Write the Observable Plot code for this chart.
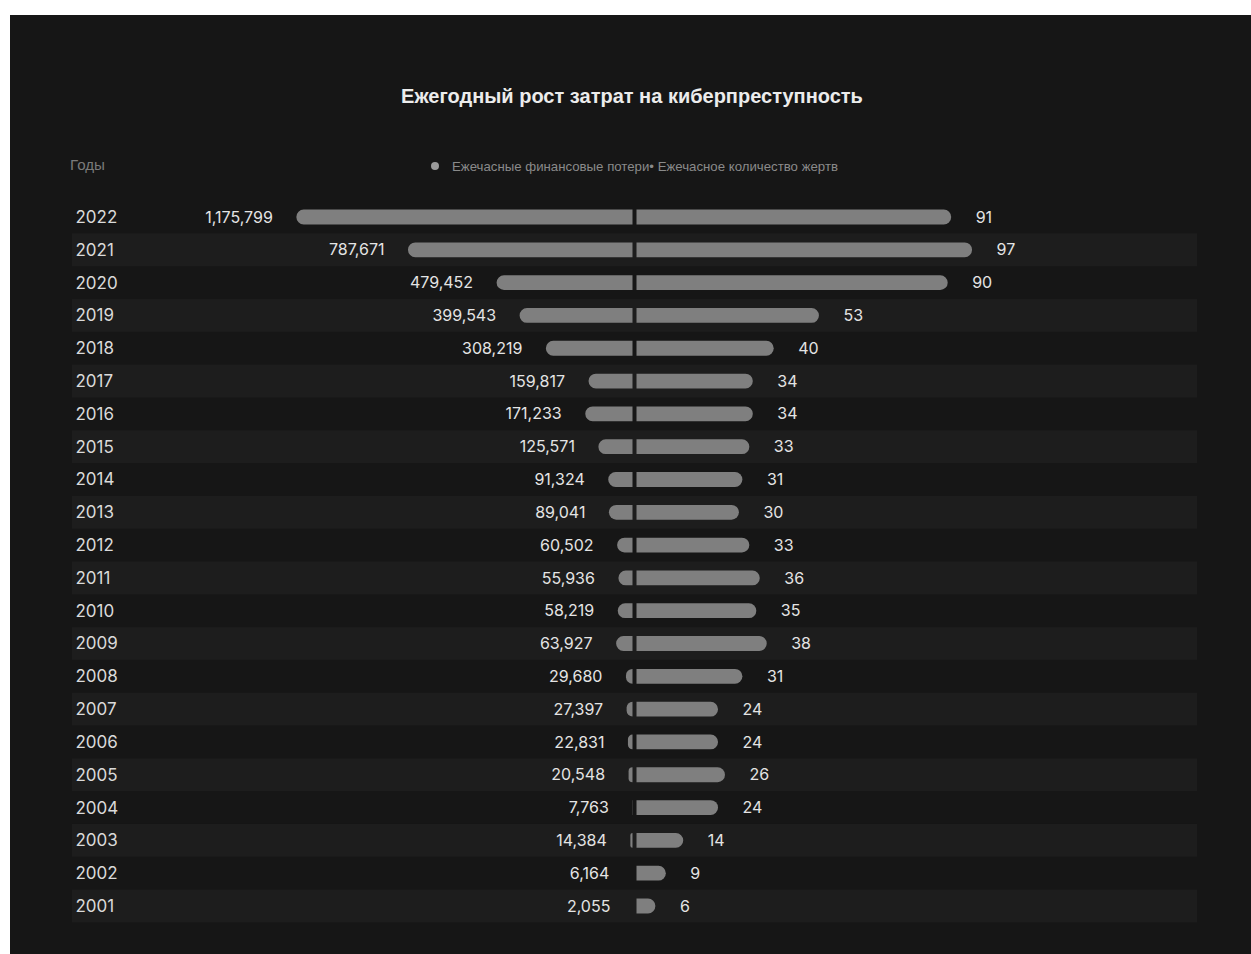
<!DOCTYPE html>
<html><head><meta charset="utf-8">
<script src="https://cdn.jsdelivr.net/npm/d3@7"></script>
<script src="https://cdn.jsdelivr.net/npm/@observablehq/plot@0.6"></script>
<style>
html,body{margin:0;padding:0;background:#fff;width:1251px;height:954px;overflow:hidden;}
#panel{position:absolute;left:10px;top:15px;width:1241px;height:939px;background:#161616;}
#title{position:absolute;left:0;width:1264px;top:85px;text-align:center;font-family:"Liberation Sans",Arial,sans-serif;font-weight:bold;font-size:20px;color:#ececec;white-space:nowrap;}
#head{position:absolute;left:0;top:140px;}
#chart{position:absolute;left:0;top:190px;}
</style></head>
<body>
<div id="panel"></div>
<div id="title">Ежегодный рост затрат на киберпреступность</div>
<svg id="head" width="1251" height="45" font-family="'Liberation Sans', Arial, sans-serif">
  <text x="70" y="30" font-size="15" fill="#7a7a7a" textLength="35" lengthAdjust="spacingAndGlyphs">Годы</text>
  <circle cx="435" cy="26" r="4" fill="#9a9a9a"></circle>
  <text x="452" y="30.5" font-size="13.5" fill="#8a8a8a" textLength="386" lengthAdjust="spacingAndGlyphs">Ежечасные финансовые потери• Ежечасное количество жертв</text>
</svg>
<div id="chart"></div>
<script>
const years = [2022, 2021, 2020, 2019, 2018, 2017, 2016, 2015, 2014, 2013, 2012, 2011, 2010, 2009, 2008, 2007, 2006, 2005, 2004, 2003, 2002, 2001];
const losses = [1175799, 787671, 479452, 399543, 308219, 159817, 171233, 125571, 91324, 89041, 60502, 55936, 58219, 63927, 29680, 27397, 22831, 20548, 7763, 14384, 6164, 2055];
const victims = [91, 97, 90, 53, 40, 34, 34, 33, 31, 30, 33, 36, 35, 38, 31, 24, 24, 26, 24, 14, 9, 6];

const rows = years.map((y, i) => ({year: String(y), loss: losses[i], victims: victims[i]}));
const fmt = d3.format(",");
const pxPerUnit = 3.48, lossPerUnit = 12100;
const left = 72, right = 1197, W = 1251;
const half = (right - left) / 2 / pxPerUnit;
const barFill = "#7f7f7f";
const bar = {y: "year", insetTop: 9, insetBottom: 9, fill: barFill};

const chart = Plot.plot({
  width: W, height: 764,
  marginLeft: left, marginRight: W - right, marginTop: 10.6, marginBottom: 31.6,
  x: {domain: [-half, half], axis: null},
  y: {type: "band", domain: rows.map(d => d.year), padding: 0, round: false, axis: null},
  style: {background: "transparent", color: "#ddd", fontFamily: "Inter, 'Liberation Sans', sans-serif"},
  marks: [
    Plot.cell(rows.filter((d, i) => i % 2 === 1), {y: "year", fill: "#1d1d1d"}),
    Plot.barX(rows, {...bar, x1: d => -d.loss / lossPerUnit, x2: 0, insetRight: 2, rx1: 7.4}),
    Plot.barX(rows, {...bar, x1: 0, x2: "victims", insetLeft: 2, rx2: 7.4}),
    Plot.text(rows, {y: "year", frameAnchor: "left", dx: 3, text: "year", textAnchor: "start", fontSize: 17, fill: "#dadada"}),
    Plot.text(rows, {y: "year", x: d => -d.loss / lossPerUnit, text: d => fmt(d.loss), textAnchor: "end", dx: -24, fontSize: 16, fill: "#e4e4e4"}),
    Plot.text(rows, {y: "year", x: "victims", text: d => String(d.victims), textAnchor: "start", dx: 24, fontSize: 16, fill: "#e4e4e4"})
  ]
});
document.getElementById("chart").appendChild(chart);
</script>
</body></html>
